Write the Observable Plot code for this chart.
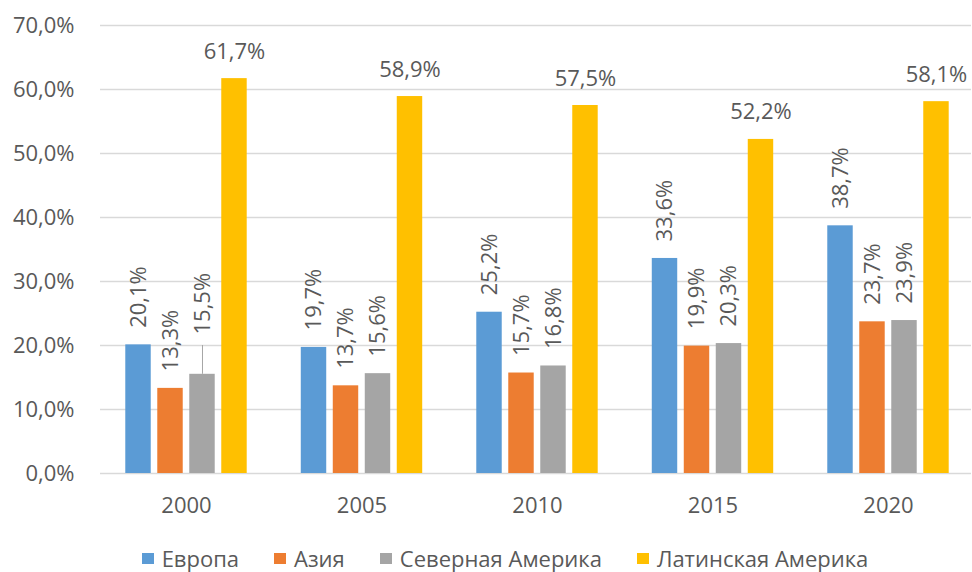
<!DOCTYPE html>
<html>
<head>
<meta charset="utf-8">
<script src="https://cdn.jsdelivr.net/npm/d3@7"></script>
<script src="https://cdn.jsdelivr.net/npm/@observablehq/plot@0.6"></script>
<style>
  html, body { margin: 0; padding: 0; background: #fff; }
  body { width: 972px; height: 572px; overflow: hidden; font-family: "Open Sans", sans-serif; }
  #chart svg { display: block; }
  #legend { display: flex; justify-content: center; align-items: center; gap: 35px; margin-top: 15px;
            font-size: 22px; line-height: 1; color: #595959; height: 26px; padding-left: 38px; box-sizing: border-box; }
  #legend .item { display: flex; align-items: center; gap: 8px; }
  #legend .sw { width: 12px; height: 11px; display: inline-block; }
</style>
</head>
<body>
<div id="chart"></div>
<div id="legend"></div>
<script>
// ---- data ----
const years = ["2000", "2005", "2010", "2015", "2020"];
const regions = ["Европа", "Азия", "Северная Америка", "Латинская Америка"];
const colors = ["#5B9BD5", "#ED7D31", "#A5A5A5", "#FFC000"];
const europe = [20.1, 19.7, 25.2, 33.6, 38.7];
const asia = [13.3, 13.7, 15.7, 19.9, 23.7];
const northAmerica = [15.5, 15.6, 16.8, 20.3, 23.9];
const latinAmerica = [61.7, 58.9, 57.5, 52.2, 58.1];
const yTicks = [0, 10, 20, 30, 40, 50, 60, 70];
// label pulled away from its bar with a leader line
const leaders = [{year: "2000", region: "Северная Америка", from: 15.5, to: 20.0}];

// ---- build table ----
const series = [europe, asia, northAmerica, latinAmerica];
const step = 0.1823, barW = 0.145;
const data = [];
years.forEach((yr, i) => {
  regions.forEach((r, j) => {
    const c = i + (j - 1.5) * step;
    const lead = leaders.find(l => l.year === yr && l.region === r);
    data.push({year: yr, region: r, value: series[j][i], x1: c - barW / 2, x2: c + barW / 2, xc: c,
               labelY: lead ? lead.to : series[j][i], lead: !!lead, j});
  });
});
const leaderData = leaders.map(l => {
  const d = data.find(e => e.year === l.year && e.region === l.region);
  return {...l, xc: d.xc};
});
const fmt = v => v.toFixed(1).replace(".", ",") + "%";

const chart = Plot.plot({
  width: 972,
  height: 530,
  marginLeft: 100,
  marginRight: 1,
  marginTop: 25,
  marginBottom: 57,
  style: {fontFamily: "Open Sans, sans-serif", fontSize: "22px", color: "#595959", background: "#fff"},
  x: {domain: [-0.49, 4.473], ticks: [0, 1, 2, 3, 4], tickFormat: i => years[i], tickSize: 0, tickPadding: 24, label: null},
  y: {domain: [0, 70], ticks: yTicks, tickFormat: d => fmt(d), tickSize: 0, tickPadding: 26, label: null},
  color: {domain: regions, range: colors},
  marks: [
    Plot.ruleY(yTicks, {stroke: "#D9D9D9", strokeWidth: 1.3}),
    Plot.rectY(data, {x1: "x1", x2: "x2", y: "value", fill: "region"}),
    Plot.ruleX(leaderData, {x: "xc", y1: "from", y2: "to", stroke: "#A6A6A6", strokeWidth: 1}),
    Plot.text(data.filter(d => d.j < 3 && !d.lead), {x: "xc", y: "labelY", text: d => fmt(d.value), rotate: -90,
      textAnchor: "start", lineAnchor: "middle", dy: -17, fontSize: 22, fill: "#595959"}),
    Plot.text(data.filter(d => d.lead), {x: "xc", y: "labelY", text: d => fmt(d.value), rotate: -90,
      textAnchor: "start", lineAnchor: "middle", dy: -11, fontSize: 22, fill: "#595959"}),
    Plot.text(data.filter(d => d.j === 3), {x: "xc", y: "value", text: d => fmt(d.value),
      textAnchor: "middle", lineAnchor: "bottom", dy: -20, fontSize: 22, fill: "#595959"})
  ]
});
document.getElementById("chart").appendChild(chart);

const legend = document.getElementById("legend");
regions.forEach((r, j) => {
  const it = document.createElement("div");
  it.className = "item";
  it.innerHTML = `<span class="sw" style="background:${colors[j]}"></span><span>${r}</span>`;
  legend.appendChild(it);
});
</script>
</body>
</html>
